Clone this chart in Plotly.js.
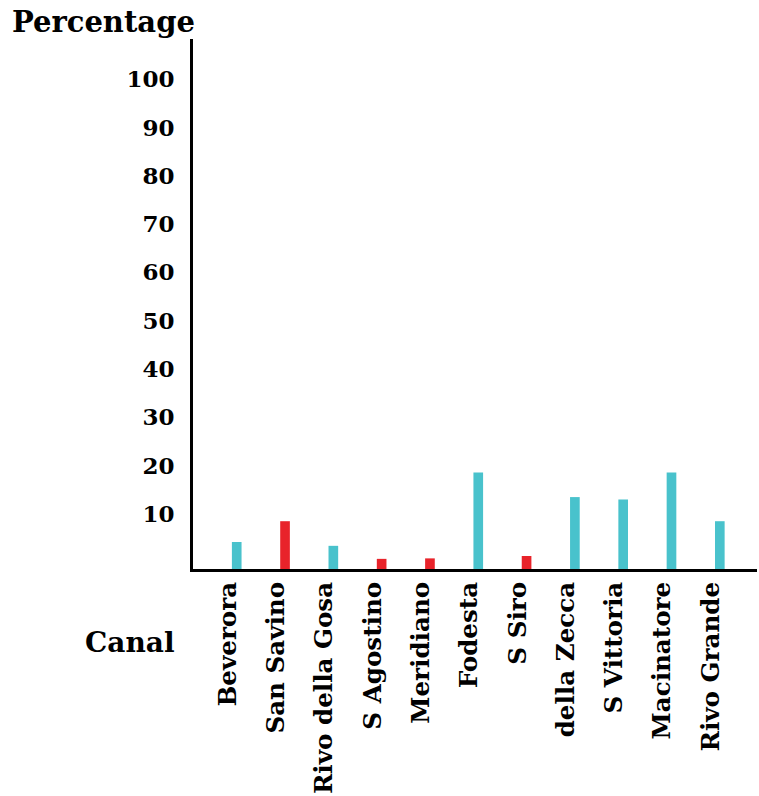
<!DOCTYPE html>
<html>
<head>
<meta charset="utf-8">
<script src="https://cdn.plot.ly/plotly-3.0.1.min.js"></script>
<style>html,body{margin:0;padding:0;background:#fff;}#chart{width:759px;height:796px;}</style>
</head>
<body>
<div id="chart"></div>
<script>
var canals = ["Beverora", "San Savino", "Rivo della Gosa", "S Agostino", "Meridiano", "Fodesta", "S Siro", "della Zecca", "S Vittoria", "Macinatore", "Rivo Grande"];
var percentages = [5.6, 9.9, 4.8, 2.1, 2.2, 20.0, 2.7, 14.9, 14.4, 20.0, 9.9];
var groups = ["blue", "red", "blue", "red", "red", "blue", "red", "blue", "blue", "blue", "blue"];
var yTickValues = [10, 20, 30, 40, 50, 60, 70, 80, 90, 100];
var yTickLabels = ["10", "20", "30", "40", "50", "60", "70", "80", "90", "100"];

var palette = {blue: "#49c2cc", red: "#e8232a"};
var FONT = "DejaVu Serif";

var trace = {
  type: "bar",
  x: canals,
  y: percentages,
  width: 0.2,
  marker: {color: groups.map(function(g){ return palette[g]; }), line: {width: 0}},
  hoverinfo: "x+y"
};

var layout = {
  width: 759, height: 796,
  margin: {l: 193, r: 2, t: 39, b: 227, pad: 0},
  paper_bgcolor: "#fff", plot_bgcolor: "#fff",
  showlegend: false,
  font: {family: FONT, color: "#000"},
  xaxis: {
    type: "category",
    range: [-0.905, 10.77],
    showgrid: false, zeroline: false,
    showline: true, linecolor: "#000", linewidth: 3,
    ticks: "", tickangle: -90,
    ticklabelstandoff: 0,
    ticklabelshift: -9,
    tickfont: {family: FONT, size: 24.6, color: "#000", weight: "bold"},
    fixedrange: true
  },
  yaxis: {
    range: [0, 109.8],
    showgrid: false, zeroline: false,
    showline: true, linecolor: "#000", linewidth: 3,
    ticks: "",
    tickvals: yTickValues, ticktext: yTickLabels,
    ticklabelstandoff: 11,
    ticklabelshift: -7,
    tickfont: {family: FONT, size: 23, color: "#000", weight: "bold"},
    fixedrange: true
  },
  annotations: [
    {text: "Percentage", xref: "paper", yref: "paper", x: -0.3245, y: 1.032,
     xanchor: "left", yanchor: "middle", showarrow: false,
     font: {family: FONT, size: 29, color: "#000", weight: "bold"}},
    {text: "Canal", xref: "paper", yref: "paper", x: -0.0284, y: -0.1396,
     xanchor: "right", yanchor: "middle", showarrow: false,
     font: {family: FONT, size: 28, color: "#000", weight: "bold"}}
  ]
};

Plotly.newPlot("chart", [trace], layout, {displayModeBar: false, staticPlot: true});
</script>
</body>
</html>
